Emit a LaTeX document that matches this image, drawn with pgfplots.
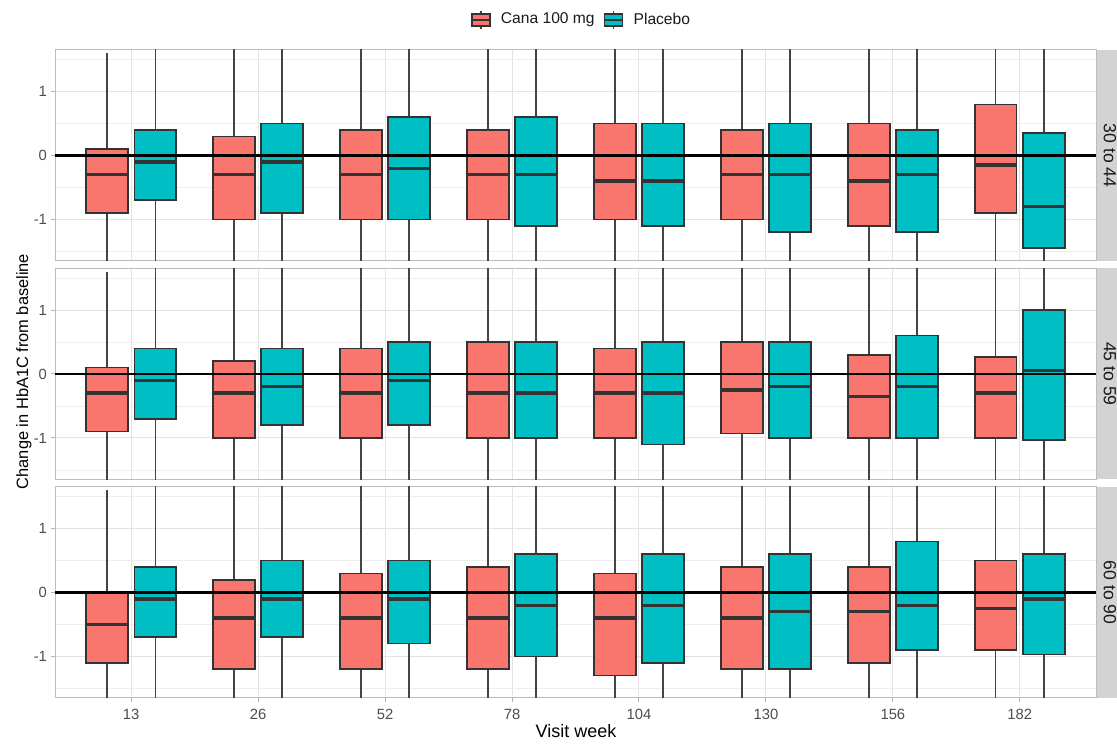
\documentclass[border=0pt]{standalone}
\usepackage{fontspec}
\setmainfont{Liberation Sans}
\usepackage{pgfplots}
\usepackage{pgfplotstable}
\pgfplotsset{compat=1.18}
\usepgfplotslibrary{statistics}

\definecolor{canac}{HTML}{F8766D}
\definecolor{plac}{HTML}{00BFC4}
\definecolor{boxc}{HTML}{333333}
\definecolor{whisc}{HTML}{444444}
\definecolor{gridc}{HTML}{E3E3E3}
\definecolor{mgridc}{HTML}{EEEEEE}
\definecolor{bordc}{HTML}{BDBDBD}
\definecolor{tickc}{HTML}{B3B3B3}
\definecolor{labc}{HTML}{4D4D4D}
\definecolor{stripc}{HTML}{D3D3D3}
\definecolor{stript}{HTML}{1A1A1A}

% columns: visit week, Cana (lower whisker, Q1, median, Q3, upper whisker), Placebo (same)
\pgfplotstableread{
wk  clw   cq1   cmed  cq3   cuw   plw   pq1   pmed  pq3   puw
13  -2.40 -0.90 -0.30 0.10  1.60  -2.35 -0.70 -0.10 0.40  2.05
26  -2.95 -1.00 -0.30 0.30  2.25  -3.00 -0.90 -0.10 0.50  2.60
52  -3.10 -1.00 -0.30 0.40  2.50  -3.40 -1.00 -0.20 0.60  3.00
78  -3.10 -1.00 -0.30 0.40  2.50  -3.65 -1.10 -0.30 0.60  3.15
104 -3.25 -1.00 -0.40 0.50  2.75  -3.50 -1.10 -0.40 0.50  2.90
130 -3.10 -1.00 -0.30 0.40  2.50  -3.75 -1.20 -0.30 0.50  3.05
156 -3.50 -1.10 -0.40 0.50  2.90  -3.60 -1.20 -0.30 0.40  2.80
182 -3.45 -0.90 -0.15 0.80  3.35  -4.15 -1.45 -0.80 0.35  3.05
}\tabA
\pgfplotstableread{
wk  clw   cq1   cmed  cq3   cuw   plw   pq1   pmed  pq3   puw
13  -2.40 -0.90 -0.30 0.10  1.60  -2.35 -0.70 -0.10 0.40  2.05
26  -2.80 -1.00 -0.30 0.20  2.00  -2.60 -0.80 -0.20 0.40  2.20
52  -3.10 -1.00 -0.30 0.40  2.50  -2.75 -0.80 -0.10 0.50  2.45
78  -3.25 -1.00 -0.30 0.50  2.75  -3.25 -1.00 -0.30 0.50  2.75
104 -3.10 -1.00 -0.30 0.40  2.50  -3.50 -1.10 -0.30 0.50  2.90
130 -3.08 -0.93 -0.25 0.50  2.65  -3.25 -1.00 -0.20 0.50  2.75
156 -2.95 -1.00 -0.35 0.30  2.25  -3.40 -1.00 -0.20 0.60  3.00
182 -2.90 -1.00 -0.30 0.27  2.17  -4.10 -1.03 0.05  1.00  4.05
}\tabB
\pgfplotstableread{
wk  clw   cq1   cmed  cq3   cuw   plw   pq1   pmed  pq3   puw
13  -2.75 -1.10 -0.50 0.00  1.60  -2.35 -0.70 -0.10 0.40  2.05
26  -3.30 -1.20 -0.40 0.20  2.30  -2.50 -0.70 -0.10 0.50  2.30
52  -3.45 -1.20 -0.40 0.30  2.55  -2.75 -0.80 -0.10 0.50  2.45
78  -3.60 -1.20 -0.40 0.40  2.80  -3.40 -1.00 -0.20 0.60  3.00
104 -3.70 -1.30 -0.40 0.30  2.70  -3.65 -1.10 -0.20 0.60  3.15
130 -3.60 -1.20 -0.40 0.40  2.80  -3.90 -1.20 -0.30 0.60  3.30
156 -3.35 -1.10 -0.30 0.40  2.65  -3.45 -0.90 -0.20 0.80  3.35
182 -3.00 -0.90 -0.25 0.50  2.60  -3.30 -0.97 -0.10 0.60  2.95
}\tabC

\pgfplotsset{
  panel/.style={
    scale only axis, width=520.5pt, height=105.5pt,
    xmin=0.4, xmax=8.6, ymin=-1.65, ymax=1.65,
    xtick={1,2,3,4,5,6,7,8},
    ytick={-1,0,1}, yticklabels={-1,0,1},
    minor ytick={-1.5,-0.5,0.5,1.5},
    xmajorgrids, ymajorgrids, yminorgrids,
    major grid style={draw=gridc, line width=0.5pt},
    minor grid style={draw=mgridc, line width=0.35pt},
    axis line style={draw=bordc, line width=0.5pt},
    tick align=outside, tick pos=left,
    major tick length=2pt, minor tick length=0pt,
    tick style={draw=tickc, line width=0.5pt},
    ticklabel style={font=\fontsize{7.4}{8}\selectfont, text=labc},
    yticklabel style={xshift=1.5pt},
  },
  gbox/.style={
    forget plot, draw=boxc, line width=0.8pt, solid,
    boxplot/draw direction=y,
    boxplot/box extend=0.33, boxplot/whisker extend=0,
    boxplot/every median/.style={draw=boxc, line width=1.7pt},
    boxplot/every whisker/.style={draw=whisc, line width=0.75pt},
  },
}

% #1 table, #2 row, #3 column prefix (c or p), #4 fill colour, #5 draw position
\newcommand{\onebox}[5]{%
  \pgfplotstablegetelem{#2}{#3lw}\of{#1}\edef\vlw{\pgfplotsretval}%
  \pgfplotstablegetelem{#2}{#3q1}\of{#1}\edef\vqa{\pgfplotsretval}%
  \pgfplotstablegetelem{#2}{#3med}\of{#1}\edef\vmd{\pgfplotsretval}%
  \pgfplotstablegetelem{#2}{#3q3}\of{#1}\edef\vqc{\pgfplotsretval}%
  \pgfplotstablegetelem{#2}{#3uw}\of{#1}\edef\vuw{\pgfplotsretval}%
  \edef\doplot{\noexpand\addplot[gbox, fill=#4,
    boxplot prepared={draw position=#5, lower whisker=\vlw,
      lower quartile=\vqa, median=\vmd, upper quartile=\vqc,
      upper whisker=\vuw}] coordinates {};}%
  \doplot
}
\newcommand{\panelboxes}[1]{%
  \pgfplotsinvokeforeach{0,...,7}{%
    \onebox{#1}{##1}{c}{canac}{##1+0.81}%
    \onebox{#1}{##1}{p}{plac}{##1+1.19}%
  }%
  \addplot[forget plot, black, line width=1.25pt] coordinates {(0.4,0) (8.6,0)};
}

\begin{document}
\begin{tikzpicture}
\useasboundingbox (0pt,0pt) rectangle (558.5pt,371.5pt);

\begin{axis}[panel, name=p1, at={(27.5pt,241pt)}, anchor=south west,
  xticklabels={}, xtick style={draw=none},
  legend style={at={(0.5,1)}, anchor=center, xshift=2.5pt, yshift=15pt, draw=none, fill=none,
    inner sep=0pt, font=\fontsize{7.8}{9}\selectfont, legend columns=2,
    nodes={inner sep=0pt, text=stript},
    column sep=5pt, /tikz/every even column/.append style={column sep=4.5pt}},
  ]
  \addlegendimage{legend image code/.code={%
    \draw[draw=whisc, line width=0.6pt] (4.5pt,-4.5pt) -- (4.5pt,4.5pt);
    \draw[draw=boxc, fill=canac, line width=0.6pt] (0pt,-3pt) rectangle (9pt,3pt);
    \draw[draw=boxc, line width=1pt] (0pt,0pt) -- (9pt,0pt);}}
  \addlegendentry{Cana 100 mg}
  \addlegendimage{legend image code/.code={%
    \draw[draw=whisc, line width=0.6pt] (4.5pt,-4.5pt) -- (4.5pt,4.5pt);
    \draw[draw=boxc, fill=plac, line width=0.6pt] (0pt,-3pt) rectangle (9pt,3pt);
    \draw[draw=boxc, line width=1pt] (0pt,0pt) -- (9pt,0pt);}}
  \addlegendentry{Placebo}
  \panelboxes{\tabA}
\end{axis}

\begin{axis}[panel, name=p2, at={(27.5pt,131.75pt)}, anchor=south west,
  xticklabels={}, xtick style={draw=none}]
  \panelboxes{\tabB}
\end{axis}

\begin{axis}[panel, name=p3, at={(27.5pt,22.5pt)}, anchor=south west,
  xticklabels={13,26,52,78,104,130,156,182}]
  \panelboxes{\tabC}
\end{axis}

% facet strips
\fill[stripc] ([xshift=0.4pt]p1.south east) rectangle ([xshift=14pt]p1.north east);
\fill[stripc] ([xshift=0.4pt]p2.south east) rectangle ([xshift=14pt]p2.north east);
\fill[stripc] ([xshift=0.4pt]p3.south east) rectangle ([xshift=14pt]p3.north east);
\node[rotate=-90, font=\fontsize{8.8}{10}\selectfont, text=stript, inner sep=0pt]
  at ([xshift=7pt]p1.east) {30 to 44};
\node[rotate=-90, font=\fontsize{8.8}{10}\selectfont, text=stript, inner sep=0pt]
  at ([xshift=7pt]p2.east) {45 to 59};
\node[rotate=-90, font=\fontsize{8.8}{10}\selectfont, text=stript, inner sep=0pt]
  at ([xshift=7pt]p3.east) {60 to 90};

% axis titles
\node[rotate=90, font=\fontsize{8.2}{10}\selectfont, text=black, inner sep=0pt]
  at (12pt,185.75pt) {Change in HbA1C from baseline};
\node[font=\fontsize{9}{10}\selectfont, text=black, inner sep=0pt]
  at (288pt,6pt) {Visit week};
\end{tikzpicture}
\end{document}
